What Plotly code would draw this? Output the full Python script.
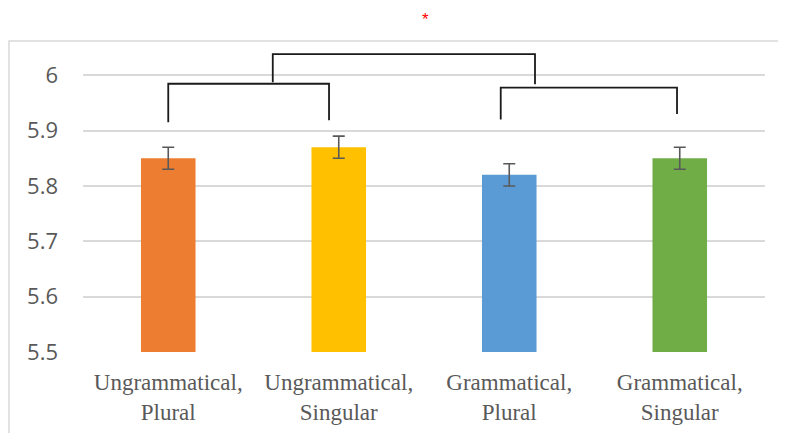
import plotly.graph_objects as go

categories = ["Ungrammatical,<br>Plural", "Ungrammatical,<br>Singular",
              "Grammatical,<br>Plural", "Grammatical,<br>Singular"]
values = [5.85, 5.87, 5.82, 5.85]
errors = [0.02, 0.02, 0.02, 0.02]
colors = ["#ED7D31", "#FFC000", "#5B9BD5", "#70AD47"]
y_ticks = [5.5, 5.6, 5.7, 5.8, 5.9, 6.0]
y_ticklabels = ["5.5", "5.6", "5.7", "5.8", "5.9", "6"]

# significance brackets: x_left, x_right, y_top, y_left_end, y_right_end (data units)
bracket_x_left = [0.0, 1.95, 0.613]
bracket_x_right = [0.943, 2.984, 2.151]
bracket_y_top = [5.9846, 5.9774, 6.038]
bracket_y_left_end = [5.915, 5.920, 5.9873]
bracket_y_right_end = [5.9186, 5.930, 5.9837]

xs = list(range(len(categories)))

fig = go.Figure()
fig.add_trace(go.Bar(
    x=xs, y=[v - 5.5 for v in values], base=5.5,
    marker=dict(color=colors, line=dict(width=0)),
    width=0.32,
    error_y=dict(type="data", array=errors, visible=True,
                 color="#595959", thickness=1.6, width=6),
))

shapes = []
for xl, xr, yt, yle, yre in zip(bracket_x_left, bracket_x_right, bracket_y_top,
                               bracket_y_left_end, bracket_y_right_end):
    shapes.append(dict(
        type="path", xref="x", yref="y",
        path=f"M {xl} {yle} L {xl} {yt} L {xr} {yt} L {xr} {yre}",
        line=dict(color="#1a1a1a", width=1.8),
    ))
# outer chart border
shapes.append(dict(type="rect", xref="paper", yref="paper",
                   x0=-0.1085, x1=1.2, y0=-0.5, y1=1.0032,
                   line=dict(color="#d9d9d9", width=1.5), layer="below"))

fig.update_layout(
    width=786, height=433,
    margin=dict(l=75, r=29, t=34, b=89),
    paper_bgcolor="white", plot_bgcolor="white",
    showlegend=False,
    shapes=shapes,
    xaxis=dict(range=[-0.5, 3.5], tickmode="array", tickvals=xs, ticktext=categories,
               showgrid=False, zeroline=False, showline=False,
               tickfont=dict(family="Liberation Serif", size=23, color="#595959"),
               ticks="", ticklabelstandoff=14),
    yaxis=dict(range=[5.5, 6.06], tickmode="array", tickvals=y_ticks, ticktext=y_ticklabels,
               showgrid=True, gridcolor="#d9d9d9", gridwidth=1.5, zeroline=False,
               showline=False, ticks="",
               tickfont=dict(family="Open Sans", size=22, color="#595959"),
               ticklabelstandoff=24),
    annotations=[dict(text="*", xref="paper", yref="paper", x=0.5015, y=1.071,
                      showarrow=False, font=dict(color="red", size=17, family="Liberation Sans"),
                      xanchor="center", yanchor="middle")],
    bargap=0.68,
)
fig.write_html("out.html")
